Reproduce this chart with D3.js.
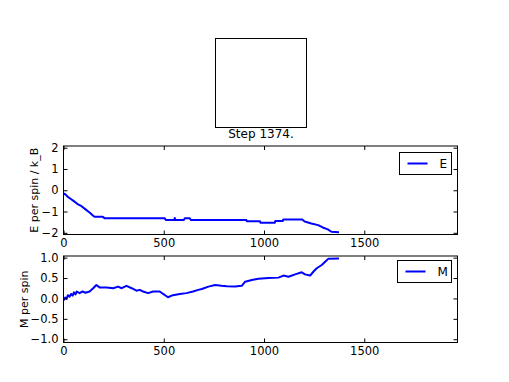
<!DOCTYPE html>
<html>
<head>
<meta charset="utf-8">
<script src="https://cdn.jsdelivr.net/npm/d3@7"></script>
<style>
  body { margin: 0; background: #fff; }
  svg { display: block; font-family: 'DejaVu Sans', sans-serif; }
</style>
</head>
<body>
<svg id="chart" width="509" height="382"></svg>
<script>
// energy per spin vs step
const energySteps = [0, 10, 20, 35, 50, 70, 90, 110, 130, 148, 156, 196, 206, 505, 510, 553, 555, 558, 600, 605, 630, 635, 912, 915, 980, 982, 1054, 1056, 1094, 1096, 1189, 1203, 1236, 1270, 1293, 1318, 1336, 1374]
const energyValues = [-0.15, -0.2, -0.3, -0.4, -0.5, -0.65, -0.75, -0.9, -1.05, -1.2, -1.25, -1.25, -1.32, -1.32, -1.4, -1.4, -1.3, -1.4, -1.4, -1.32, -1.32, -1.4, -1.4, -1.46, -1.46, -1.53, -1.53, -1.45, -1.45, -1.37, -1.37, -1.47, -1.56, -1.64, -1.75, -1.84, -1.95, -1.97]

// magnetisation per spin vs step
const magSteps = [0, 8, 15, 22, 30, 38, 46, 52, 60, 66, 80, 95, 110, 130, 148, 164, 180, 215, 248, 272, 290, 314, 340, 364, 380, 397, 422, 447, 480, 497, 521, 546, 580, 613, 646, 672, 690, 723, 756, 789, 814, 856, 889, 906, 939, 972, 1022, 1072, 1097, 1122, 1155, 1188, 1205, 1230, 1247, 1263, 1288, 1305, 1320, 1374]
const magValues = [-0.05, 0.02, -0.01, 0.08, 0.04, 0.11, 0.07, 0.15, 0.1, 0.17, 0.13, 0.17, 0.14, 0.17, 0.25, 0.33, 0.27, 0.27, 0.25, 0.29, 0.25, 0.31, 0.25, 0.19, 0.21, 0.17, 0.13, 0.17, 0.17, 0.11, 0.03, 0.08, 0.11, 0.13, 0.17, 0.21, 0.23, 0.29, 0.33, 0.31, 0.3, 0.29, 0.31, 0.41, 0.45, 0.48, 0.5, 0.51, 0.56, 0.53, 0.59, 0.64, 0.59, 0.56, 0.66, 0.74, 0.82, 0.9, 0.97, 0.98]

const xTicks = [0, 500, 1000, 1500]
const energyTicks = [-2, -1, 0, 1, 2]
const magTicks = [-1.0, -0.5, 0.0, 0.5, 1.0]

const svg = d3.select('#chart')

// empty lattice panel on top
svg.append('rect')
  .attr('x', 215.5).attr('y', 38.5)
  .attr('width', 91).attr('height', 89)
  .attr('fill', 'none').attr('stroke', '#000')
svg.append('text')
  .attr('x', 261).attr('y', 138)
  .attr('text-anchor', 'middle')
  .attr('font-size', 12)
  .text('Step 1374.')

function panel(cfg) {
  const x = d3.scaleLinear().domain([0, 1965]).range([cfg.left, cfg.right])
  const y = d3.scaleLinear().domain(cfg.yDomain).range([cfg.bottom, cfg.top])
  const g = svg.append('g')
  const id = 'clip' + cfg.name

  g.append('clipPath').attr('id', id)
    .append('rect')
    .attr('x', cfg.left).attr('y', cfg.top)
    .attr('width', cfg.right - cfg.left).attr('height', cfg.bottom - cfg.top)

  const pts = cfg.steps.map((s, i) => [s, cfg.values[i]])
  g.append('path')
    .datum(pts)
    .attr('clip-path', 'url(#' + id + ')')
    .attr('fill', 'none')
    .attr('stroke', '#0000ff')
    .attr('stroke-width', 2)
    .attr('stroke-linejoin', 'round')
    .attr('d', d3.line().x(d => x(d[0])).y(d => y(d[1])))

  // axes with inward ticks on all sides
  const bottomAxis = d3.axisBottom(x).tickValues(xTicks).tickSizeInner(-4).tickSizeOuter(0).tickPadding(4).tickFormat(d3.format('d'))
  const topAxis = d3.axisTop(x).tickValues(xTicks).tickSizeInner(-4).tickSizeOuter(0).tickFormat('')
  const leftAxis = d3.axisLeft(y).tickValues(cfg.yTicks).tickSizeInner(-4).tickSizeOuter(0).tickPadding(5).tickFormat(cfg.fmt)
  const rightAxis = d3.axisRight(y).tickValues(cfg.yTicks).tickSizeInner(-4).tickSizeOuter(0).tickFormat('')

  g.append('g').attr('transform', 'translate(0,' + cfg.bottom + ')').call(bottomAxis)
  g.append('g').attr('transform', 'translate(0,' + cfg.top + ')').call(topAxis)
  g.append('g').attr('transform', 'translate(' + cfg.left + ',0)').call(leftAxis)
  g.append('g').attr('transform', 'translate(' + cfg.right + ',0)').call(rightAxis)
  g.selectAll('.domain').remove()
  g.selectAll('.tick line').attr('stroke', '#000')
  g.selectAll('.tick text').attr('font-size', 11.5).attr('font-family', 'DejaVu Sans').attr('fill', '#000')

  g.append('rect')
    .attr('x', cfg.left).attr('y', cfg.top)
    .attr('width', cfg.right - cfg.left).attr('height', cfg.bottom - cfg.top)
    .attr('fill', 'none').attr('stroke', '#000')

  g.append('text')
    .attr('transform', 'translate(' + cfg.labelX + ',' + ((cfg.top + cfg.bottom) / 2) + ') rotate(-90)')
    .attr('text-anchor', 'middle')
    .attr('font-size', 11)
    .text(cfg.label)

  // legend
  const lg = cfg.legend
  g.append('rect')
    .attr('x', lg.x).attr('y', lg.y).attr('width', lg.w).attr('height', lg.h)
    .attr('fill', '#fff').attr('stroke', '#000')
  g.append('line')
    .attr('x1', lg.x + 8).attr('x2', lg.x + 28)
    .attr('y1', lg.y + lg.h / 2).attr('y2', lg.y + lg.h / 2)
    .attr('stroke', '#0000ff').attr('stroke-width', 2)
  g.append('text')
    .attr('x', lg.x + 40).attr('y', lg.y + lg.h / 2 + 4.5)
    .attr('font-size', 12)
    .text(cfg.name)
}

panel({
  name: 'E', steps: energySteps, values: energyValues,
  left: 63.5, right: 457.5, top: 146, bottom: 234.5,
  yDomain: [-2.08, 2.08], yTicks: energyTicks, fmt: d3.format('d'),
  label: 'E per spin / k_B', labelX: 37.5,
  legend: { x: 399.5, y: 152.5, w: 52, h: 22 }
})

panel({
  name: 'M', steps: magSteps, values: magValues,
  left: 63.5, right: 457.5, top: 256, bottom: 342.5,
  yDomain: [-1.08, 1.04], yTicks: magTicks, fmt: d3.format('.1f'),
  label: 'M per spin', labelX: 28,
  legend: { x: 397.5, y: 260.5, w: 54, h: 22 }
})
</script>
</body>
</html>
